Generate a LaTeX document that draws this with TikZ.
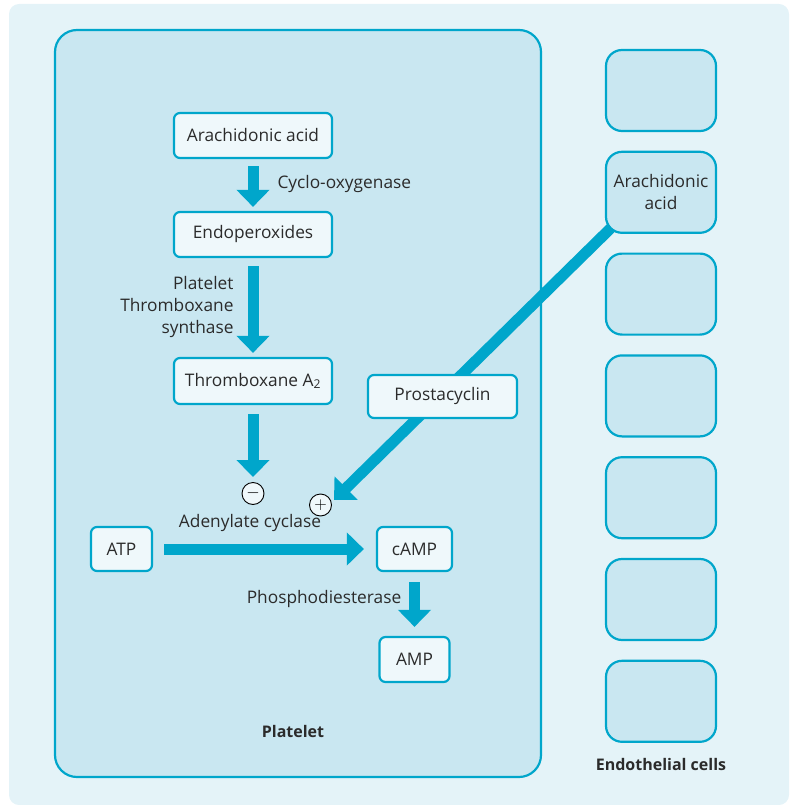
\documentclass[tikz,border=0pt]{standalone}
\usepackage{fontspec}
\setmainfont{Open Sans}
\usepackage{tikz}
\usetikzlibrary{arrows.meta, positioning}

\definecolor{pagebg}{HTML}{E4F3F8}
\definecolor{cellblue}{HTML}{C9E7F1}
\definecolor{linkblue}{HTML}{00A6CB}
\definecolor{boxfill}{HTML}{EFF8FB}
\definecolor{inkgray}{HTML}{2B2B2B}

\pgfdeclarelayer{back}
\pgfsetlayers{back,main}

\begin{document}
\begin{tikzpicture}[x=1pt, y=-1pt,
  every node/.style={text=inkgray, font=\fontsize{17.3}{22}\selectfont},
  molbox/.style={rectangle, draw=linkblue, line width=2.2pt, rounded corners=6pt,
                 fill=boxfill, inner sep=0pt},
  cellbox/.style={rectangle, draw=linkblue, line width=2.2pt, rounded corners=16pt,
                  fill=cellblue, minimum width=110pt, minimum height=81pt},
  bigarrow/.style={line width=11pt, linkblue, -{Triangle[width=32pt, length=17pt]}},
  sign/.style={circle, draw=black, line width=0.9pt, fill=boxfill, inner sep=0pt,
               minimum size=22pt, text=black, font=\fontsize{18}{18}\selectfont},
  caption/.style={font=\fontsize{16}{20}\selectfont\bfseries}
]
\useasboundingbox (0,0) rectangle (789,805);

\begin{pgfonlayer}{back}
\fill[pagebg, rounded corners=10pt] (9,4) rectangle (789,805);
\draw[linkblue, line width=2.2pt, fill=cellblue, rounded corners=22pt] (55,30) rectangle (541,777);
\end{pgfonlayer}

% platelet side
\node[molbox, minimum width=158pt, minimum height=45pt] (arach)  at (253,135.5) {Arachidonic acid};
\node[molbox, minimum width=158pt, minimum height=45pt] (endo)   at (253,234.5) {Endoperoxides};
\node[molbox, minimum width=158pt, minimum height=46pt] (thromb) at (253,381)   {Thromboxane A\textsubscript{2}};
\node[molbox, minimum width=149pt, minimum height=43pt] (prosta) at (442.5,396.5) {Prostacyclin};
\node[molbox, minimum width=61pt,  minimum height=44pt] (atp)    at (121.5,549) {ATP};
\node[molbox, minimum width=75pt,  minimum height=44pt] (camp)   at (414.5,549) {cAMP};
\node[molbox, minimum width=70pt,  minimum height=45pt] (amp)    at (414.5,659.5) {AMP};

\node[sign] (minus) at (253,493.5) {$-$};
\node[sign] (plus)  at (320.5,505) {$+$};
\coordinate (plustip) at (334,500);

\node[anchor=west] (coxlab) at (274,184) {Cyclo-oxygenase};
\node[anchor=east, align=right] (txslab) at (237,307) {Platelet\\Thromboxane\\synthase};
\node (adclab) at (250,523) {Adenylate cyclase};
\node (pdelab) at (324,599) {Phosphodiesterase};
\node[caption] (platlab) at (293,731) {Platelet};

% endothelium
\foreach \i in {1,...,7}
  \node[cellbox] (cell\i) at (661,90.5+101.8*\i-101.8) {};
\node[align=center] (cellacid) at (cell2) {Arachidonic\\acid};
\node[caption] (endolab) at (661,764) {Endothelial cells};

\draw[bigarrow, shorten <=7pt, shorten >=4pt] (arach) -- (endo);
\draw[bigarrow, shorten <=8pt, shorten >=4pt] (endo) -- (thromb);
\draw[bigarrow, shorten <=9pt, shorten >=5pt] (thromb) -- (minus);
\draw[bigarrow, shorten <=11pt, shorten >=12pt] (atp) -- (camp);
\draw[bigarrow, shorten <=10pt, shorten >=9pt] (camp) -- (amp);

\begin{pgfonlayer}{back}
\draw[bigarrow, shorten <=-8pt] (cell2.south west) -- (plustip);
\end{pgfonlayer}
\end{tikzpicture}
\end{document}
